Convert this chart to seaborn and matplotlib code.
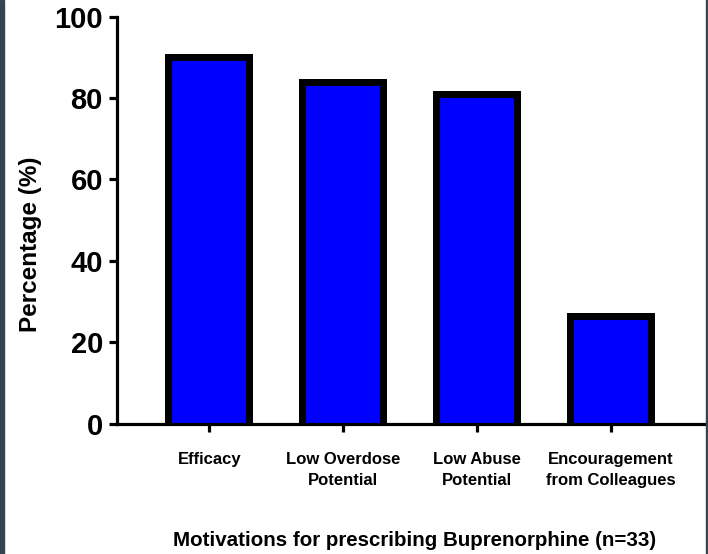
import numpy as np
import pandas as pd
import matplotlib
matplotlib.use('Agg')
import matplotlib.pyplot as plt
import seaborn as sns
from matplotlib.patches import Rectangle

categorias = ['Efficacy', 'Low Overdose\nPotential', 'Low Abuse\nPotential', 'Encouragement\nfrom Colleagues']
percentuais = [90.9, 84.8, 81.8, 27.3]
ticks_y = [0, 20, 40, 60, 80, 100]

sns.set_style('ticks')
plt.rcParams['font.family'] = ['Liberation Sans', 'DejaVu Sans']
plt.rcParams['text.color'] = 'black'
plt.rcParams['axes.labelcolor'] = 'black'
plt.rcParams['xtick.color'] = 'black'
plt.rcParams['ytick.color'] = 'black'
plt.rcParams['axes.edgecolor'] = 'black'

df = pd.DataFrame({'motivo': categorias, 'pct': percentuais})

fig = plt.figure(figsize=(7.08, 5.54), dpi=100)
ax = fig.add_axes([0.165, 0.235, 0.84, 0.735])

sns.barplot(data=df, x='motivo', y='pct', color='#0000ff', saturation=1,
            width=0.66, edgecolor='black', linewidth=10, ax=ax)
# contorno só para dentro da barra; a borda de baixo fica escondida sob o eixo
for p in ax.patches:
    p.set_y(p.get_y() - 5)
    p.set_height(p.get_height() + 5)
    p.set_clip_path(p.get_path(), p.get_transform())

ax.set_ylim(0, 100)
ax.set_xlim(-0.69, 3.75)
ax.set_yticks(ticks_y)
ax.set_yticklabels([str(t) for t in ticks_y], fontsize=21, fontweight='bold')
ax.set_xticks(range(len(categorias)))
ax.set_xticklabels(categorias, fontsize=12, fontweight='bold', linespacing=1.5)

ax.spines['top'].set_visible(False)
ax.spines['right'].set_visible(False)
ax.spines['left'].set_linewidth(2.3)
ax.spines['bottom'].set_linewidth(2.3)
ax.spines['bottom'].set_zorder(5)
ax.tick_params(axis='both', direction='out', length=6, width=2.3, pad=4)
ax.tick_params(axis='x', pad=14)

ax.set_ylabel('Percentage (%)', fontsize=17.5, fontweight='bold')
ax.yaxis.set_label_coords(-0.125, 0.44)
ax.set_xlabel('Motivations for prescribing Buprenorphine (n=33)', fontsize=14.8,
              fontweight='bold')
ax.xaxis.set_label_coords(0.5, -0.264)

# borda escura da captura
fig.patches.append(Rectangle((0, 0), 4 / 708, 1, transform=fig.transFigure,
                             color='#37444f', zorder=10))
fig.patches.append(Rectangle((1 - 2 / 708, 0), 2 / 708, 1, transform=fig.transFigure,
                             color='#37444f', zorder=10))

fig.savefig('out.png', dpi=100)
